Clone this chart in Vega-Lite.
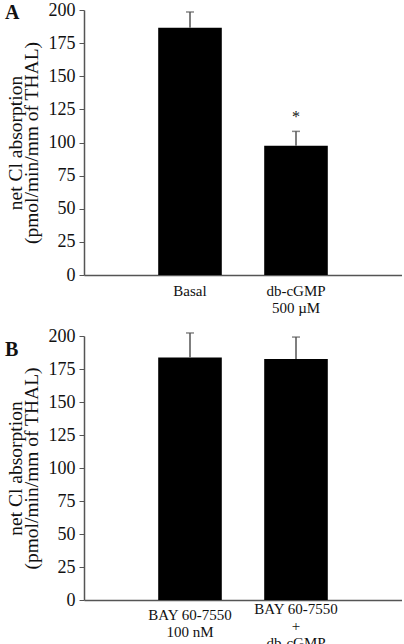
{
  "$schema": "https://vega.github.io/schema/vega-lite/v6.json",
  "padding": {"left": 5, "top": -11, "right": 0, "bottom": 0},
  "spacing": 12,
  "background": "white",
  "config": {
    "view": {"stroke": null},
    "font": "Liberation Serif",
    "axis": {"grid": false, "domainColor": "#555", "domainWidth": 1.5, "tickColor": "#555", "labelColor": "#111", "titleColor": "#111", "labelFont": "Liberation Serif", "titleFont": "Liberation Serif"},
    "axisY": {"labelOverlap": false, "tickSize": 5, "labelPadding": 4, "labelFontSize": 18, "titleFontSize": 19.5, "titleFontWeight": "normal", "titleLineHeight": 16, "titlePadding": 7},
    "title": {"font": "Liberation Serif", "fontSize": 20, "fontWeight": "bold", "color": "#111", "anchor": "start", "frame": "bounds", "baseline": "alphabetic", "offset": -33}
  },
  "datasets": {
    "panelA": [
      {"group": "Basal", "value": 186.6, "upper": 198.5, "sig": ""},
      {"group": "db-cGMP|500 µM", "value": 97.6, "upper": 108.4, "sig": "*"}
    ],
    "panelB": [
      {"group": "BAY 60-7550|100 nM", "value": 183.8, "upper": 202.3, "sig": ""},
      {"group": "BAY 60-7550|+|db-cGMP", "value": 182.6, "upper": 199.2, "sig": ""}
    ]
  },
  "vconcat": [
    {
      "title": "A",
      "width": 318,
      "height": 265,
      "data": {"name": "panelA"},
      "encoding": {
        "x": {"field": "group", "type": "nominal", "sort": null,
          "scale": {"paddingInner": 0.4, "paddingOuter": 0.7},
          "axis": {"title": null, "ticks": false, "labelAngle": 0, "labelFontSize": 15, "labelBaseline": "top", "labelPadding": 8, "labelLineHeight": 17, "labelExpr": "split(datum.label, '|')"}}
      },
      "layer": [
        {"mark": {"type": "bar", "color": "black"},
          "encoding": {"y": {"field": "value", "type": "quantitative",
            "scale": {"domain": [0, 200], "nice": false},
            "axis": {"values": [0, 25, 50, 75, 100, 125, 150, 175, 200], "title": ["net Cl absorption", "(pmol/min/mm of THAL)"]}}}},
        {"mark": {"type": "rule", "color": "#555", "strokeWidth": 1.5},
          "encoding": {"y": {"field": "value", "type": "quantitative", "axis": {"values": [0, 25, 50, 75, 100, 125, 150, 175, 200], "title": ["net Cl absorption", "(pmol/min/mm of THAL)"]}}, "y2": {"field": "upper"}}},
        {"mark": {"type": "tick", "color": "#555", "size": 8, "thickness": 1.5},
          "encoding": {"y": {"field": "upper", "type": "quantitative", "axis": {"values": [0, 25, 50, 75, 100, 125, 150, 175, 200], "title": ["net Cl absorption", "(pmol/min/mm of THAL)"]}}}},
        {"mark": {"type": "text", "fontSize": 16, "dy": -14, "baseline": "middle", "color": "#111"},
          "encoding": {"y": {"field": "upper", "type": "quantitative", "axis": {"values": [0, 25, 50, 75, 100, 125, 150, 175, 200], "title": ["net Cl absorption", "(pmol/min/mm of THAL)"]}}, "text": {"field": "sig"}}}
      ]
    },
    {
      "title": "B",
      "width": 318,
      "height": 264,
      "data": {"name": "panelB"},
      "encoding": {
        "x": {"field": "group", "type": "nominal", "sort": null,
          "scale": {"paddingInner": 0.4, "paddingOuter": 0.7},
          "axis": {"title": null, "ticks": false, "labelAngle": 0, "labelFontSize": 15, "labelBaseline": "top",
            "labelPadding": {"condition": {"test": "indexof(datum.value, '+') >= 0", "value": 1}, "value": 7},
            "encode": {"labels": {
              "enter": {"lineHeight": [{"test": "indexof(datum.value, '+') >= 0", "value": 12.5}, {"value": 17}]},
              "update": {"lineHeight": [{"test": "indexof(datum.value, '+') >= 0", "value": 12.5}, {"value": 17}]}}},
            "labelExpr": "split(datum.label, '|')"}}
      },
      "layer": [
        {"mark": {"type": "bar", "color": "black"},
          "encoding": {"y": {"field": "value", "type": "quantitative",
            "scale": {"domain": [0, 200], "nice": false},
            "axis": {"values": [0, 25, 50, 75, 100, 125, 150, 175, 200], "title": ["net Cl absorption", "(pmol/min/mm of THAL)"]}}}},
        {"mark": {"type": "rule", "color": "#555", "strokeWidth": 1.5},
          "encoding": {"y": {"field": "value", "type": "quantitative", "axis": {"values": [0, 25, 50, 75, 100, 125, 150, 175, 200], "title": ["net Cl absorption", "(pmol/min/mm of THAL)"]}}, "y2": {"field": "upper"}}},
        {"mark": {"type": "tick", "color": "#555", "size": 8, "thickness": 1.5},
          "encoding": {"y": {"field": "upper", "type": "quantitative", "axis": {"values": [0, 25, 50, 75, 100, 125, 150, 175, 200], "title": ["net Cl absorption", "(pmol/min/mm of THAL)"]}}}}
      ]
    }
  ]
}
